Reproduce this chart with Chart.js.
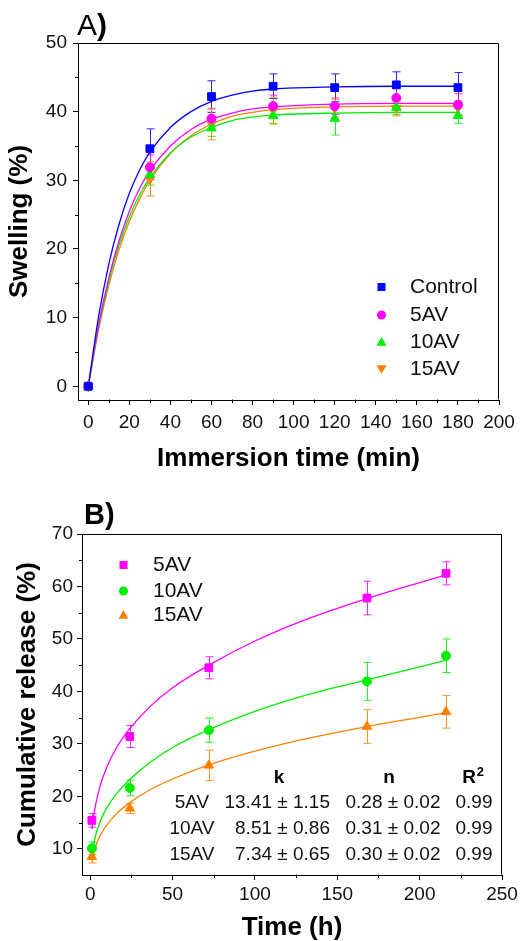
<!DOCTYPE html>
<html>
<head>
<meta charset="utf-8">
<script src="https://cdn.jsdelivr.net/npm/chart.js@4.4.0/dist/chart.umd.min.js"></script>
<style>
  html, body { margin: 0; padding: 0; background: #fff; }
  #wrap { position: relative; width: 528px; height: 941px; }
  #swellBox { position: absolute; left: 0; top: 0; width: 528px; height: 474px; }
  #releaseBox { position: absolute; left: 0; top: 470px; width: 528px; height: 471px; }
</style>
</head>
<body>
<div id="wrap">
  <div id="swellBox"><canvas id="swellChart"></canvas></div>
  <div id="releaseBox"><canvas id="releaseChart"></canvas></div>
</div>
<script>
// ---- Panel A: swelling ----
const swellTimes = [0, 30, 60, 90, 120, 150, 180];
const swellControl = [0, 34.6, 42.2, 43.7, 43.5, 43.9, 43.5];
const swellControlErr = [0.3, 2.9, 2.3, 1.8, 2.0, 1.9, 2.2];
const swell5AV = [0, 31.9, 39.0, 40.8, 40.8, 42.0, 41.0];
const swell5AVErr = [0.3, 1.8, 1.4, 1.6, 1.2, 1.5, 1.6];
const swell10AV = [0, 30.8, 37.6, 39.4, 39.0, 40.6, 39.4];
const swell10AVErr = [0.3, 1.5, 1.2, 1.2, 2.4, 1.0, 1.1];
const swell15AV = [0, 30.2, 38.2, 40.2, 40.5, 40.5, 40.6];
const swell15AVErr = [0.3, 2.5, 2.3, 1.9, 1.3, 1.1, 1.0];

// fitted curves
const swellFitTimes = [0, 5, 10, 15, 20, 25, 30, 40, 50, 60, 70, 80, 90, 120, 150, 180];
const swellFitControl = [0, 10.1, 17.8, 23.6, 28.1, 31.5, 34.1, 37.7, 40.0, 41.5, 42.4, 43.0, 43.3, 43.6, 43.7, 43.7];
const swellFit5AV = [0, 8.9, 15.8, 21.2, 25.5, 28.8, 31.4, 35.0, 37.4, 38.9, 39.8, 40.4, 40.7, 41.1, 41.2, 41.2];
const swellFit10AV = [0, 8.6, 15.3, 20.6, 24.7, 27.9, 30.4, 34.0, 36.3, 37.7, 38.7, 39.2, 39.5, 39.8, 39.9, 39.9];
const swellFit15AV = [0, 8.2, 14.7, 19.9, 24.0, 27.3, 30.0, 33.9, 36.5, 38.2, 39.3, 39.9, 40.3, 40.7, 40.8, 40.8];

const swellXTicks = [0, 20, 40, 60, 80, 100, 120, 140, 160, 180, 200];
const swellYTicks = [0, 10, 20, 30, 40, 50];

// ---- Panel B: cumulative release ----
const releaseTimes = [1, 24, 72, 168, 216];
const release5AV = [15.4, 31.4, 44.5, 57.8, 62.5];
const release5AVErr = [1.3, 2.1, 2.1, 3.2, 2.2];
const release10AV = [10.1, 21.6, 32.6, 41.9, 46.8];
const release10AVErr = [1.2, 1.5, 2.3, 3.6, 3.2];
const release15AV = [8.5, 17.7, 25.9, 33.3, 36.1];
const release15AVErr = [1.2, 1.0, 2.9, 3.2, 3.1];

const releaseFitTimes = [1, 3, 6, 10, 16, 24, 36, 50, 72, 100, 130, 168, 216];
const releaseFit5AV = [13.8, 18.0, 22.0, 25.5, 29.3, 32.9, 37.0, 40.7, 45.0, 49.6, 53.6, 57.7, 62.2];
const releaseFit10AV = [8.7, 12.2, 15.2, 17.8, 20.5, 23.2, 26.4, 29.3, 32.7, 36.2, 39.2, 42.2, 45.9];
const releaseFit15AV = [7.4, 10.2, 12.5, 14.5, 16.7, 18.8, 21.2, 23.3, 26.0, 28.6, 30.9, 33.3, 35.9];

const releaseXTicks = [0, 50, 100, 150, 200, 250];
const releaseYTicks = [10, 20, 30, 40, 50, 60, 70];

// Korsmeyer-Peppas fit table
const tableRows = ["5AV", "10AV", "15AV"];
const tableK = ["13.41 \u00b1 1.15", "8.51 \u00b1 0.86", "7.34 \u00b1 0.65"];
const tableN = ["0.28 \u00b1 0.02", "0.31 \u00b1 0.02", "0.30 \u00b1 0.02"];
const tableR2 = ["0.99", "0.99", "0.99"];

const FONT = "'Liberation Sans', Arial, Helvetica, sans-serif";
const BLUE = "#0000ff", MAGENTA = "#ff00ff", GREEN = "#00ee00", ORANGE = "#ff8000";

function pts(xs, ys) {
    return xs.map((x, i) => ({ x: x, y: ys[i] }));
}

function markerSet(label, xs, ys, errs, color, style, radius, rotation) {
    return {
        label: label,
        data: pts(xs, ys),
        errors: errs,
        backgroundColor: color,
        borderColor: color,
        pointStyle: style,
        pointRadius: radius,
        pointRotation: rotation || 0,
        pointBorderWidth: 1,
        showLine: false,
        order: 0
    };
}

function fitSet(xs, ys, color) {
    return {
        data: pts(xs, ys),
        borderColor: color,
        borderWidth: 1.3,
        pointRadius: 0,
        showLine: true,
        cubicInterpolationMode: "monotone",
        order: 1
    };
}

function drawMarker(ctx, style, x, y, size, color) {
    const h = size / 2;
    ctx.fillStyle = color;
    ctx.beginPath();
    if (style === "rect") {
        ctx.rect(x - h, y - h, size, size);
    } else if (style === "circle") {
        ctx.arc(x, y, h, 0, Math.PI * 2);
    } else if (style === "triangle") {
        ctx.moveTo(x, y - h);
        ctx.lineTo(x + h, y + h * 0.75);
        ctx.lineTo(x - h, y + h * 0.75);
        ctx.closePath();
    } else {
        ctx.moveTo(x, y + h);
        ctx.lineTo(x + h, y - h * 0.75);
        ctx.lineTo(x - h, y - h * 0.75);
        ctx.closePath();
    }
    ctx.fill();
}

// error bars, drawn under the markers
const errorBars = {
    id: "errorBars",
    beforeDatasetsDraw(chart) {
        const { ctx, scales: { x, y } } = chart;
        ctx.save();
        ctx.lineWidth = 1;
        chart.data.datasets.forEach(ds => {
            if (!ds.errors) return;
            ctx.strokeStyle = ds.borderColor;
            ctx.globalAlpha = 0.85;
            ds.data.forEach((p, j) => {
                const px = Math.round(x.getPixelForValue(p.x)) + 0.5;
                const top = y.getPixelForValue(p.y + ds.errors[j]);
                const bot = y.getPixelForValue(p.y - ds.errors[j]);
                ctx.beginPath();
                ctx.moveTo(px, top);
                ctx.lineTo(px, bot);
                ctx.moveTo(px - 4, top);
                ctx.lineTo(px + 4, top);
                ctx.moveTo(px - 4, bot);
                ctx.lineTo(px + 4, bot);
                ctx.stroke();
            });
        });
        ctx.restore();
    }
};

// box around the plot plus the short minor ticks
const frame = {
    id: "frame",
    afterDraw(chart, args, opts) {
        const { ctx, chartArea: a, scales: { x, y } } = chart;
        ctx.save();
        ctx.strokeStyle = "#000";
        ctx.lineWidth = 1;
        const l = Math.round(a.left) + 0.5, r = Math.round(a.right) - 0.5;
        const t = Math.round(a.top) + 0.5, b = Math.round(a.bottom) - 0.5;
        ctx.beginPath();
        ctx.moveTo(l, t);
        ctx.lineTo(r, t);
        ctx.lineTo(r, b);
        ctx.stroke();
        ctx.beginPath();
        for (let v = opts.xMinor[0]; v <= opts.xMinor[1]; v += opts.xMinor[2]) {
            const px = Math.round(x.getPixelForValue(v)) + 0.5;
            ctx.moveTo(px, b);
            ctx.lineTo(px, b + 3.5);
        }
        for (let v = opts.yMinor[0]; v <= opts.yMinor[1]; v += opts.yMinor[2]) {
            const py = Math.round(y.getPixelForValue(v)) + 0.5;
            ctx.moveTo(l, py);
            ctx.lineTo(l - 3.5, py);
        }
        ctx.stroke();
        ctx.restore();
    }
};

// legend, panel letter and table
const notes = {
    id: "notes",
    afterDraw(chart, args, opts) {
        const ctx = chart.ctx;
        ctx.save();
        ctx.textBaseline = "middle";
        ctx.font = "21px " + FONT;
        opts.legend.forEach(it => {
            drawMarker(ctx, it.style, opts.legendX, it.y, it.size, it.color);
            ctx.fillStyle = "#111";
            ctx.textAlign = "left";
            ctx.fillText(it.text, opts.legendTextX, it.y);
        });
        // panel letter
        ctx.textBaseline = "alphabetic";
        ctx.fillStyle = "#000";
        ctx.textAlign = "left";
        ctx.font = opts.letterFont + " " + FONT;
        ctx.fillText(opts.letter, opts.letterX, opts.letterY);
        const w = ctx.measureText(opts.letter).width;
        ctx.font = "bold " + opts.parenSize + "px " + FONT;
        ctx.fillText(")", opts.letterX + w, opts.letterY);
        if (opts.table) {
            const tb = opts.table;
            ctx.textBaseline = "middle";
            ctx.font = "bold 19px " + FONT;
            ctx.textAlign = "center";
            ctx.fillText("k", tb.kHead, tb.headY);
            ctx.fillText("n", tb.nHead, tb.headY);
            // R with a raised small 2
            const rw = ctx.measureText("R").width;
            ctx.textAlign = "left";
            ctx.fillText("R", tb.rHead - rw / 2 - 4, tb.headY);
            ctx.font = "bold 13px " + FONT;
            ctx.fillText("2", tb.rHead + rw / 2 - 3, tb.headY - 6);
            ctx.font = "19px " + FONT;
            ctx.fillStyle = "#111";
            tableRows.forEach((name, i) => {
                const ry = tb.rowY[i];
                ctx.textAlign = "center";
                ctx.fillText(name, tb.nameX, ry);
                ctx.textAlign = "right";
                ctx.fillText(tableK[i], tb.kRight, ry);
                ctx.textAlign = "center";
                ctx.fillText(tableN[i], tb.nCenter, ry);
                ctx.fillText(tableR2[i], tb.rCenter, ry);
            });
        }
        ctx.restore();
    }
};

function axis(min, max, tickList, title, isX, size, tickPad, titlePad) {
    return {
        type: "linear",
        min: min,
        max: max,
        afterBuildTicks: s => { s.ticks = tickList.map(v => ({ value: v })); },
        afterFit: s => { if (isX) s.height = size; else s.width = size; },
        ticks: {
            autoSkip: false,
            maxRotation: 0,
            padding: tickPad,
            color: "#111",
            font: { family: FONT, size: 19 },
            callback: v => String(v)
        },
        grid: { display: true, drawOnChartArea: false, drawTicks: true, tickLength: 5, tickColor: "#000", tickWidth: 1 },
        border: { display: true, color: "#000", width: 1 },
        title: {
            display: true,
            text: title,
            color: "#000",
            padding: titlePad,
            font: { family: FONT, size: 26, weight: "bold", lineHeight: 1 }
        }
    };
}

new Chart(document.getElementById("swellChart"), {
    type: "scatter",
    data: {
        datasets: [
            markerSet("Control", swellTimes, swellControl, swellControlErr, BLUE, "rect", 5.5),
            markerSet("5AV", swellTimes, swell5AV, swell5AVErr, MAGENTA, "circle", 4.5),
            markerSet("10AV", swellTimes, swell10AV, swell10AVErr, GREEN, "triangle", 5.5),
            markerSet("15AV", swellTimes, swell15AV, swell15AVErr, ORANGE, "triangle", 5.5, 180),
            fitSet(swellFitTimes, swellFitControl, BLUE),
            fitSet(swellFitTimes, swellFit5AV, MAGENTA),
            fitSet(swellFitTimes, swellFit10AV, GREEN),
            fitSet(swellFitTimes, swellFit15AV, ORANGE)
        ]
    },
    options: {
        responsive: true,
        maintainAspectRatio: false,
        animation: false,
        layout: { padding: { top: 43, right: 29, left: 0, bottom: 0 } },
        plugins: {
            legend: { display: false },
            tooltip: { enabled: false },
            frame: { xMinor: [10, 190, 20], yMinor: [5, 45, 10] },
            notes: {
                legendX: 381.5, legendTextX: 410,
                legend: [
                    { text: "Control", style: "rect", size: 8, color: BLUE, y: 287 },
                    { text: "5AV", style: "circle", size: 9, color: MAGENTA, y: 315 },
                    { text: "10AV", style: "triangle", size: 10, color: GREEN, y: 342 },
                    { text: "15AV", style: "down", size: 10, color: ORANGE, y: 369 }
                ],
                letter: "A", letterFont: "30px", parenSize: 30, letterX: 77, letterY: 35
            }
        },
        scales: {
            x: axis(-5, 200, swellXTicks, "Immersion time (min)", true, 74, 6, { top: 0, bottom: 2 }),
            y: axis(-2, 50, swellYTicks, "Swelling (%)", false, 78, 6, { top: 7, bottom: 0 })
        }
    },
    plugins: [errorBars, frame, notes]
});

new Chart(document.getElementById("releaseChart"), {
    type: "scatter",
    data: {
        datasets: [
            markerSet("5AV", releaseTimes, release5AV, release5AVErr, MAGENTA, "rect", 5.5),
            markerSet("10AV", releaseTimes, release10AV, release10AVErr, GREEN, "circle", 4.5),
            markerSet("15AV", releaseTimes, release15AV, release15AVErr, ORANGE, "triangle", 5.5),
            fitSet(releaseFitTimes, releaseFit5AV, MAGENTA),
            fitSet(releaseFitTimes, releaseFit10AV, GREEN),
            fitSet(releaseFitTimes, releaseFit15AV, ORANGE)
        ]
    },
    options: {
        responsive: true,
        maintainAspectRatio: false,
        animation: false,
        layout: { padding: { top: 64, right: 26, left: 0, bottom: 0 } },
        plugins: {
            legend: { display: false },
            tooltip: { enabled: false },
            frame: { xMinor: [25, 225, 50], yMinor: [15, 65, 10] },
            notes: {
                legendX: 123.5, legendTextX: 153,
                legend: [
                    { text: "5AV", style: "rect", size: 8, color: MAGENTA, y: 95 },
                    { text: "10AV", style: "circle", size: 9, color: GREEN, y: 121 },
                    { text: "15AV", style: "triangle", size: 10, color: ORANGE, y: 145 }
                ],
                letter: "B", letterFont: "bold 29px", parenSize: 29, letterX: 84, letterY: 54,
                table: {
                    headY: 308, rowY: [333, 359, 385],
                    kHead: 279, nHead: 389, rHead: 473,
                    nameX: 192, kRight: 330, nCenter: 393, rCenter: 474
                }
            }
        },
        scales: {
            x: axis(-5, 250, releaseXTicks, "Time (h)", true, 66, 3, { top: 0, bottom: 0 }),
            y: axis(5, 70, releaseYTicks, "Cumulative release (%)", false, 82, 4, { top: 15, bottom: 0 })
        }
    },
    plugins: [errorBars, frame, notes]
});
</script>
</body>
</html>
